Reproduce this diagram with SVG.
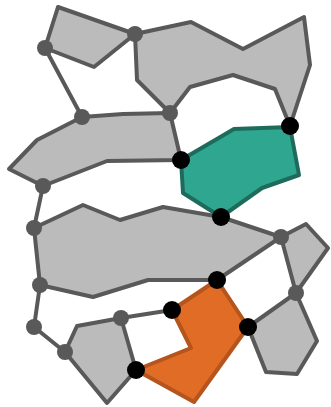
<svg xmlns="http://www.w3.org/2000/svg" width="331" height="407" viewBox="0 0 331 407">
<style>
.face{fill:#bbbbbb;stroke:#595959;stroke-width:4;stroke-linejoin:round}
.teal{fill:#2fa68f;stroke:#1e6b5c;stroke-width:4;stroke-linejoin:round}
.orange{fill:#e06c25;stroke:#b5541c;stroke-width:4;stroke-linejoin:round}
.edge{fill:none;stroke:#595959;stroke-width:4;stroke-linecap:round}
.gn{fill:#595959}
.bn{fill:#000000}
</style>
<rect width="331" height="407" fill="#ffffff"/>
<g id="faces">
<polygon class="face" points="58,7 135,34 94,67 45,48"/>
<polygon class="face" points="135,34 191,22 243,49 304,17 310,65 290,126 275,89 233,75 190,87 170,113 137,80"/>
<polygon class="face" points="82,117 123,114 170,113 181,160 107,161 43,186 9,169 37,140"/>
<polygon class="face" points="34,228 83,205 120,220 163,207 221,217 281,237 217,280 148,280 93,297 40,285"/>
<polygon class="face" points="281,237 306,224 328,248 296,293"/>
<polygon class="face" points="296,293 317,341 297,374 266,372 248,327"/>
<polygon class="face" points="65,352 77,326 121,318 136,370 107,403"/>
<polygon class="teal" points="181,160 234,129 290,127 299,175 262,188 221,217 183,193"/>
<polygon class="orange" points="217,280 248,327 194,402 136,370 191,348 172,310"/>
</g>
<g id="connectors">
<line class="edge" x1="45" y1="48" x2="82" y2="117"/>
<line class="edge" x1="43" y1="186" x2="34" y2="228"/>
<line class="edge" x1="40" y1="285" x2="34" y2="327"/>
<line class="edge" x1="34" y1="327" x2="65" y2="352"/>
<line class="edge" x1="121" y1="318" x2="172" y2="310"/>
</g>
<g id="n1"><circle class="gn" cx="45" cy="48" r="8"/></g>
<g id="n2"><circle class="gn" cx="135" cy="34" r="8"/></g>
<g id="n3"><circle class="gn" cx="82" cy="117" r="8"/></g>
<g id="n4"><circle class="gn" cx="170" cy="113" r="8"/></g>
<g id="n5"><circle class="gn" cx="43" cy="186" r="8"/></g>
<g id="n6"><circle class="gn" cx="34" cy="228" r="8"/></g>
<g id="n7"><circle class="gn" cx="40" cy="285" r="8"/></g>
<g id="n8"><circle class="gn" cx="34" cy="327" r="8"/></g>
<g id="n9"><circle class="gn" cx="65" cy="352" r="8"/></g>
<g id="n10"><circle class="gn" cx="121" cy="318" r="8"/></g>
<g id="n11"><circle class="gn" cx="281" cy="237" r="8"/></g>
<g id="n12"><circle class="gn" cx="296" cy="293" r="8"/></g>
<g id="b1"><circle class="bn" cx="290" cy="126" r="9"/></g>
<g id="b2"><circle class="bn" cx="181" cy="160" r="9"/></g>
<g id="b3"><circle class="bn" cx="221" cy="217" r="9"/></g>
<g id="b4"><circle class="bn" cx="217" cy="280" r="9"/></g>
<g id="b5"><circle class="bn" cx="172" cy="310" r="9"/></g>
<g id="b6"><circle class="bn" cx="248" cy="327" r="9"/></g>
<g id="b7"><circle class="bn" cx="136" cy="370" r="9"/></g>
</svg>
